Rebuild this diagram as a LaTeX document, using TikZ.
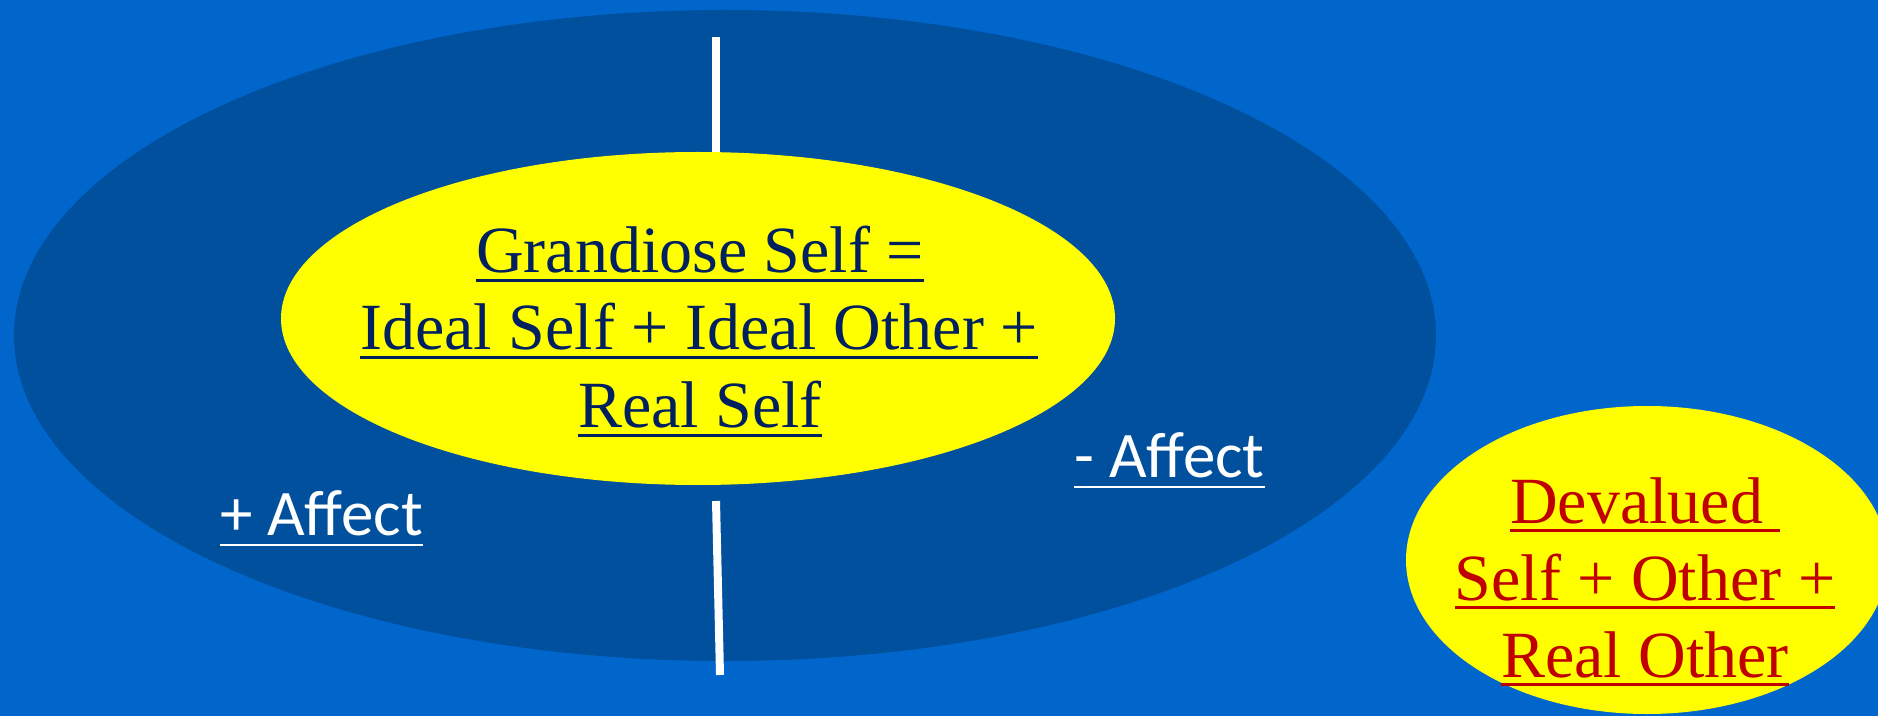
\documentclass[tikz,border=0pt]{standalone}
\usepackage{fontspec}
\setmainfont{Liberation Serif}
\newfontfamily\affectfont{Carlito}
\usetikzlibrary{shapes.geometric}
\definecolor{bgblue}{RGB}{0,102,204}
\definecolor{darkblue}{RGB}{0,80,158}
\definecolor{navytext}{RGB}{0,32,96}
\definecolor{redtext}{RGB}{192,0,0}
\definecolor{ovalyellow}{RGB}{255,255,0}
\newcommand\myul[3]{\setbox0\hbox{#1}\rlap{\rule[-#2]{\wd0}{#3}}\box0}
\tikzset{
  oval/.style={ellipse, inner sep=0pt, draw=none},
  grandtext/.style={anchor=base, inner sep=0pt, text=navytext, font=\fontsize{33}{38}\selectfont},
  devtext/.style={anchor=base, inner sep=0pt, text=redtext, font=\fontsize{33}{38}\selectfont},
  affecttext/.style={anchor=base, inner sep=0pt, text=white, font=\affectfont\fontsize{32.5}{37}\selectfont},
  axisline/.style={draw=white, line width=4pt}
}
\begin{document}
\begin{tikzpicture}[x=0.5pt, y=-0.5pt]
  \fill[bgblue] (0,0) rectangle (1878,716);
  \useasboundingbox (0,0) rectangle (1878,716);
  \clip (0,0) rectangle (1878,716);
  % big dark ellipse
  \node[oval, fill=darkblue, minimum width=711pt, minimum height=325.5pt] (big) at (725,335.5) {};
  % grandiose self ellipse
  \node[oval, fill=ovalyellow, minimum width=417pt, minimum height=166.5pt] (grand) at (698,318.5) {};
  % devalued ellipse
  \node[oval, fill=ovalyellow, minimum width=241pt, minimum height=154pt] (deval) at (1647,560) {};
  % vertical lines
  \coordinate (ttop) at (716,37);
  \coordinate (tbot) at (716,152);
  \coordinate (btop) at (716,501);
  \coordinate (bbot) at (720,675);
  \draw[axisline] (ttop) -- (tbot);
  \draw[axisline] (btop) -- (bbot);
  % grandiose text
  \node[grandtext] (g1) at (700,273) {\myul{Grandiose Self =}{4.6pt}{1.6pt}};
  \node[grandtext] (g2) at (699,350) {\myul{Ideal Self + Ideal Other +}{4.6pt}{1.6pt}};
  \node[grandtext] (g3) at (700,428) {\myul{Real Self}{4.6pt}{1.6pt}};
  % devalued text
  \node[devtext] (d1) at (1645,523) {\myul{Devalued\ }{4.6pt}{1.6pt}};
  \node[devtext] (d2) at (1645,600) {\myul{Self + Other +}{4.6pt}{1.6pt}};
  \node[devtext] (d3) at (1645,677) {\myul{Real Other}{4.6pt}{1.6pt}};
  % affect labels
  \node[affecttext] (pa) at (321.5,535) {\myul{+ Affect}{5.7pt}{1.4pt}};
  \node[affecttext] (ma) at (1169.5,477) {\myul{- Affect}{5.7pt}{1.4pt}};
\end{tikzpicture}
\end{document}
